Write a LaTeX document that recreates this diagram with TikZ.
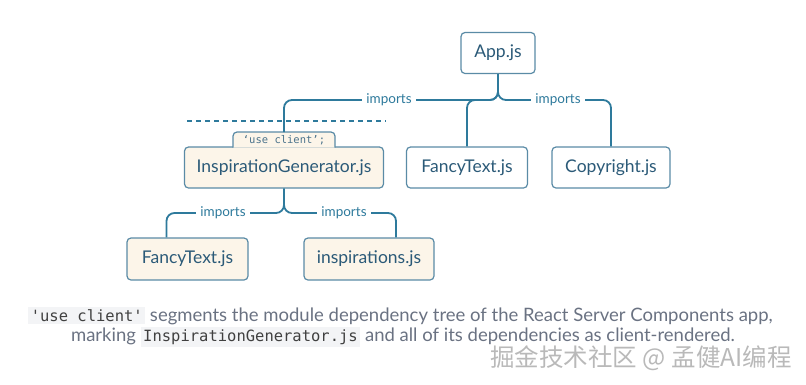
\documentclass[tikz,border=0pt]{standalone}
\usepackage{fontspec}
\setmainfont{Lato}
\setmonofont{DejaVu Sans Mono}
\newfontfamily\cjk{Noto Sans CJK SC}
\usetikzlibrary{positioning}
\definecolor{linkblue}{HTML}{2E7A9C}
\definecolor{boxline}{HTML}{5A8BA6}
\definecolor{boxtext}{HTML}{2B5A78}
\definecolor{clientfill}{HTML}{FCF5E9}
\definecolor{captiongray}{HTML}{6A7282}
\definecolor{codebg}{HTML}{F3F4F6}
\newcommand{\codespan}[1]{{\setlength{\fboxsep}{2.5pt}\colorbox{codebg}{\ttfamily\color{black!75}#1}}}

\begin{document}
\begin{tikzpicture}[x=1pt,y=-1pt]
  \tikzset{
    module/.style={draw=boxline,line width=1.2pt,rounded corners=4pt,fill=white,text=boxtext,font=\fontsize{17.5}{20}\selectfont,minimum height=41pt,inner xsep=0pt},
    client/.style={module,fill=clientfill},
    wire/.style={draw=linkblue,line width=1.8pt,rounded corners=8pt},
    imp/.style={fill=white,text=linkblue,font=\fontsize{13.5}{15}\selectfont,inner xsep=4pt,inner ysep=1pt}
  }
  \useasboundingbox (0,0) rectangle (806,384);
  % modules
  \node[module,minimum width=74pt] (app) at (498,53) {App.js};
  \node[module,minimum width=121pt] (fancy) at (467,167.5) {FancyText.js};
  \node[module,minimum width=118pt] (copy) at (611,167.5) {Copyright.js};
  \node[client,minimum width=199pt] (insp) at (284,167.5) {InspirationGenerator.js};
  \node[client,minimum width=121pt,minimum height=42pt] (fancyc) at (187.5,259) {FancyText.js};
  \node[client,minimum width=130pt,minimum height=42pt] (ideas) at (369,259) {inspirations.js};
  % client boundary tab
  \draw[draw=boxline,line width=1.2pt,fill=clientfill,rounded corners=4pt]
    (233,147.6) -- (233,132) -- (335,132) -- (335,147.6);
  \node[font=\ttfamily\fontsize{10.5}{12}\selectfont,text=boxtext!85] (usecl) at (284,140.5) {‘use client’;};
  \coordinate (tabtop) at (284,132);
  \coordinate (rowA) at (0,100);
  \coordinate (rowB) at (0,213);
  \coordinate (cutL) at (187,121);
  \coordinate (cutR) at (386,121);
  \draw[linkblue,line width=1.4pt,dash pattern=on 5pt off 4pt] (cutL) -- (cutR);
  % imports
  \draw[wire] (app.south) |- (tabtop |- rowA) -- (tabtop);
  \draw[wire] (app.south) |- (fancy.north |- rowA) -- (fancy.north);
  \draw[wire] (app.south) |- (copy.north |- rowA) -- (copy.north);
  \draw[wire] (insp.south) |- ([xshift=-21pt]fancyc.north |- rowB) -- ([xshift=-21pt]fancyc.north);
  \draw[wire] (insp.south) |- ([xshift=27pt]ideas.north |- rowB) -- ([xshift=27pt]ideas.north);
  \node[imp] (impa) at (389,100) {imports};
  \node[imp] (impb) at (558,100) {imports};
  \node[imp] (impc) at (223,213) {imports};
  \node[imp] (impd) at (344,213) {imports};
  % caption
  \node[font=\fontsize{18.5}{21}\selectfont,text=captiongray,inner sep=0pt] (capa) at (400.5,316)
    {\codespan{\fontsize{15.5}{17}\selectfont'use client'} segments the module dependency tree of the React Server Components app,};
  \node[font=\fontsize{18.5}{21}\selectfont,text=captiongray,inner sep=0pt] (capb) at (403,337)
    {marking \codespan{\fontsize{15.5}{17}\selectfont InspirationGenerator.js} and all of its dependencies as client-rendered.};
  \node[font=\cjk\fontsize{24.5}{27}\selectfont,text=gray!55,inner sep=0pt] (mark) at (641,358) {掘金技术社区 @ 孟健AI编程};
\end{tikzpicture}
\end{document}
